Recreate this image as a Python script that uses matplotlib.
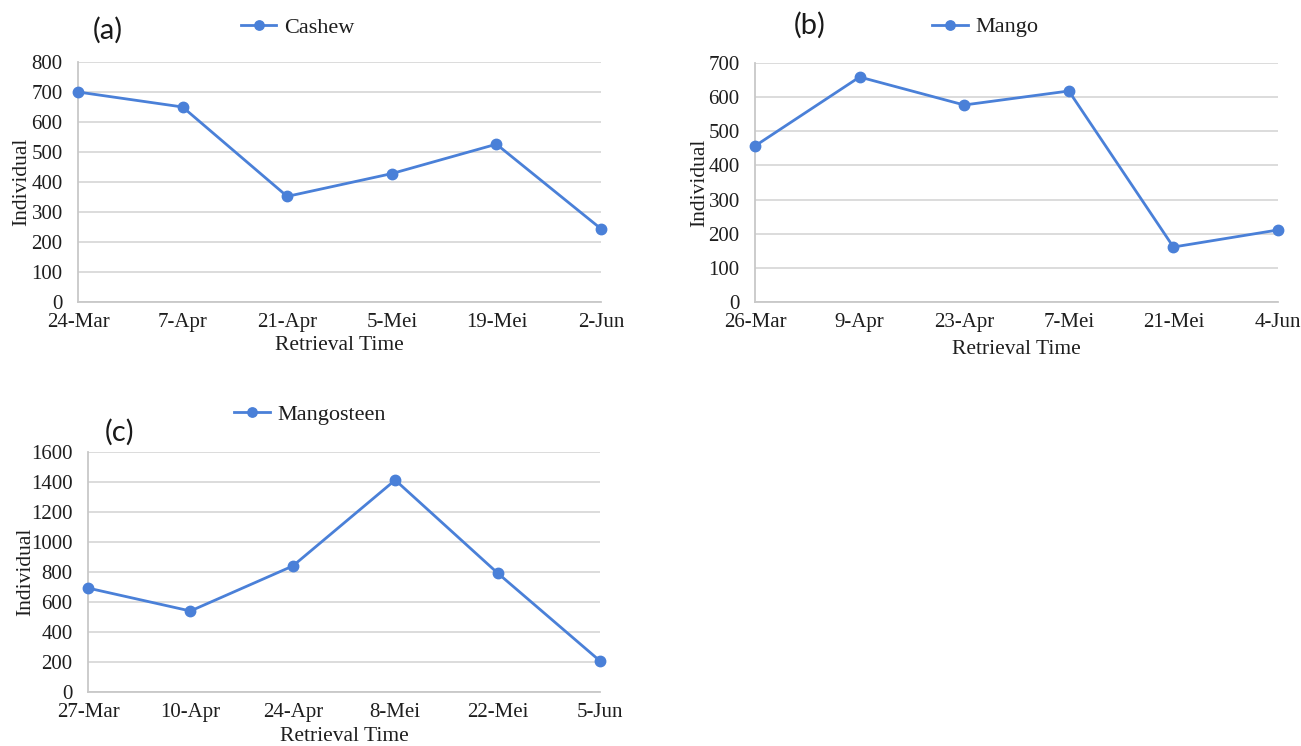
import matplotlib.pyplot as plt

# counts per retrieval date
cashew_dates = ['24-Mar', '7-Apr', '21-Apr', '5-Mei', '19-Mei', '2-Jun']
cashew_counts = [700, 650, 352, 428, 526, 244]

mango_dates = ['26-Mar', '9-Apr', '23-Apr', '7-Mei', '21-Mei', '4-Jun']
mango_counts = [457, 659, 577, 618, 161, 211]

mangosteen_dates = ['27-Mar', '10-Apr', '24-Apr', '8-Mei', '22-Mei', '5-Jun']
mangosteen_counts = [693, 540, 840, 1413, 793, 207]

plt.rcParams['font.family'] = ['Liberation Serif', 'DejaVu Serif']

line_color = '#4a80d8'
grid_color = '#d9d9d9'
text_color = '#1e1e1e'


def draw_panel(ax, dates, counts, name, ymax, ystep, ylab_x, leg_x, leg_y, xlab_y):
    x = list(range(len(dates)))
    ax.plot(x, counts, color=line_color, lw=2.0, marker='o', ms=7.5, label=name,
            clip_on=False, zorder=3)
    ax.set_xlim(0, len(dates) - 1)
    ax.set_ylim(0, ymax)
    ax.set_yticks(range(0, ymax + 1, ystep))
    ax.set_xticks(x)
    ax.set_xticklabels(dates)
    ax.grid(axis='y', color=grid_color, lw=1.3)
    ax.set_axisbelow(True)
    for s in ['top', 'right']:
        ax.spines[s].set_visible(False)
    for s in ['left', 'bottom']:
        ax.spines[s].set_color('#c8c8c8')
        ax.spines[s].set_linewidth(1.3)
    ax.tick_params(axis='both', length=0, labelsize=15, colors=text_color)
    ax.tick_params(axis='y', pad=11)
    ax.tick_params(axis='x', pad=8)
    ax.set_ylabel('Individual', fontsize=15.5, color=text_color)
    ax.yaxis.set_label_coords(ylab_x, 0.5)
    ax.set_xlabel('Retrieval Time', fontsize=15.5, color=text_color)
    ax.xaxis.set_label_coords(0.5, xlab_y)
    ax.legend(loc='center', bbox_to_anchor=(leg_x, leg_y), frameon=False,
              fontsize=16, handlelength=1.6, handletextpad=0.35, markerscale=0.9,
              labelcolor=text_color)


fig = plt.figure(figsize=(13.01, 7.46), dpi=100)

W, H = 1301, 746
ax_a = fig.add_axes([78 / W, 1 - 302 / H, 523 / W, 240 / H])
ax_b = fig.add_axes([755 / W, 1 - 302 / H, 523 / W, 239 / H])
ax_c = fig.add_axes([88 / W, 1 - 692 / H, 512 / W, 240 / H])

draw_panel(ax_a, cashew_dates, cashew_counts, 'Cashew', 800, 100, -0.089, 0.42, 1.142, -0.14)
draw_panel(ax_b, mango_dates, mango_counts, 'Mango', 700, 100, -0.087, 0.44, 1.15, -0.158)
draw_panel(ax_c, mangosteen_dates, mangosteen_counts, 'Mangosteen', 1600, 200, -0.104, 0.434, 1.155, -0.145)

# panel letters
for lbl, px, py in [('(a)', 108, 30), ('(b)', 810, 25), ('(c)', 120, 432)]:
    fig.text(px / W, 1 - py / H, lbl, fontsize=21, family=['Lato', 'DejaVu Sans'],
             ha='center', va='center', color='#1a1a1a')

fig.savefig('out.png', dpi=100)
